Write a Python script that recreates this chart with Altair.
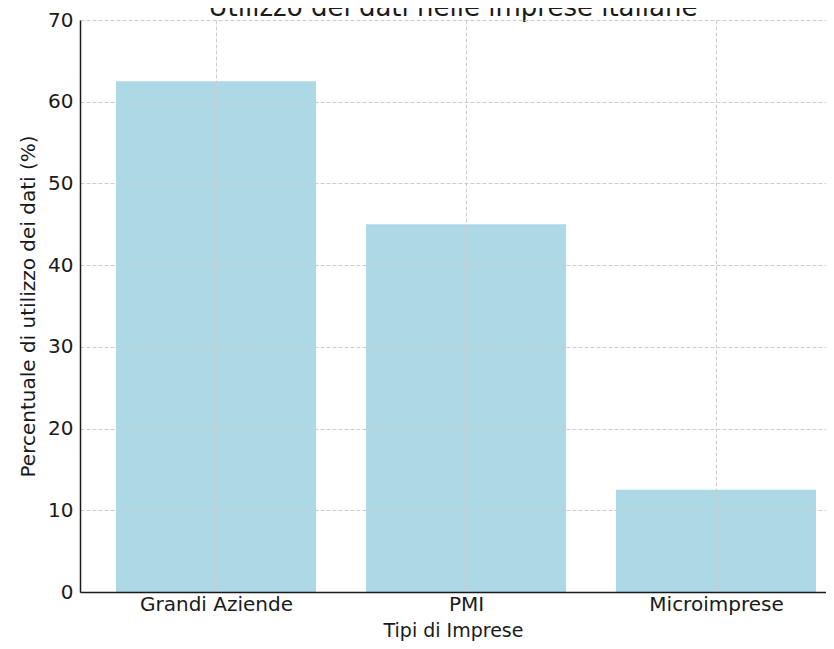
import altair as alt
import pandas as pd

categories = ["Grandi Aziende", "PMI", "Microimprese"]
values = [62.5, 45.0, 12.5]
y_ticks = [0, 10, 20, 30, 40, 50, 60, 70]

df = pd.DataFrame({"idx": list(range(len(categories))), "cat": categories, "val": values})

label_expr = "[" + ",".join("'" + c + "'" for c in categories) + "][datum.value]"

FONT = "DejaVu Sans"
TXT = "#1a1a1a"

bars = (
    alt.Chart(df)
    .transform_calculate(x0="datum.idx - 0.4", x1="datum.idx + 0.4")
    .mark_rect(color="#ADD8E6")
    .encode(
        x=alt.X(
            "x0:Q",
            scale=alt.Scale(domain=[-0.544, 2.44], nice=False, zero=False),
            axis=alt.Axis(
                title="Tipi di Imprese",
                values=[0, 1, 2],
                labelExpr=label_expr,
                ticks=False,
                labelPadding=2,
                titleBaseline="alphabetic",
                titleY=44,
                titleFontSize=19,
                grid=True,
                gridColor="#cccccc",
                gridDash=[4, 2],
                gridWidth=1,
                domainColor="#1a1a1a",
                domainWidth=1.5,
                zindex=1,
            ),
        ),
        x2="x1:Q",
        y=alt.Y(
            "val:Q",
            scale=alt.Scale(domain=[0, 70], nice=False),
            axis=alt.Axis(
                title="Percentuale di utilizzo dei dati (%)",
                values=y_ticks,
                format="d",
                ticks=False,
                labelPadding=7,
                titlePadding=9,
                grid=True,
                gridColor="#cccccc",
                gridDash=[4, 2],
                gridWidth=1,
                domainColor="#1a1a1a",
                domainWidth=1.5,
                zindex=1,
            ),
        ),
        y2=alt.datum(0),
    )
)

chart = (
    bars.properties(
        width=746,
        height=572,
        background="white",
        title=alt.TitleParams(
            "Utilizzo dei dati nelle imprese italiane",
            fontSize=26,
            font=FONT,
            fontWeight="normal",
            color=TXT,
            anchor="middle",
            baseline="alphabetic",
            offset=0,
            dy=32,
        ),
        autosize=alt.AutoSizeParams(type="none"),
        padding={"left": 72, "top": 12, "right": 0, "bottom": 49},
    )
    .configure_view(stroke=None)
    .configure_axis(
        labelFont=FONT,
        titleFont=FONT,
        labelFontSize=20,
        titleFontSize=20,
        titleFontWeight="normal",
        labelColor=TXT,
        titleColor=TXT,
    )
)

chart.save("out.html", embed_options={"renderer": "svg", "actions": False})
